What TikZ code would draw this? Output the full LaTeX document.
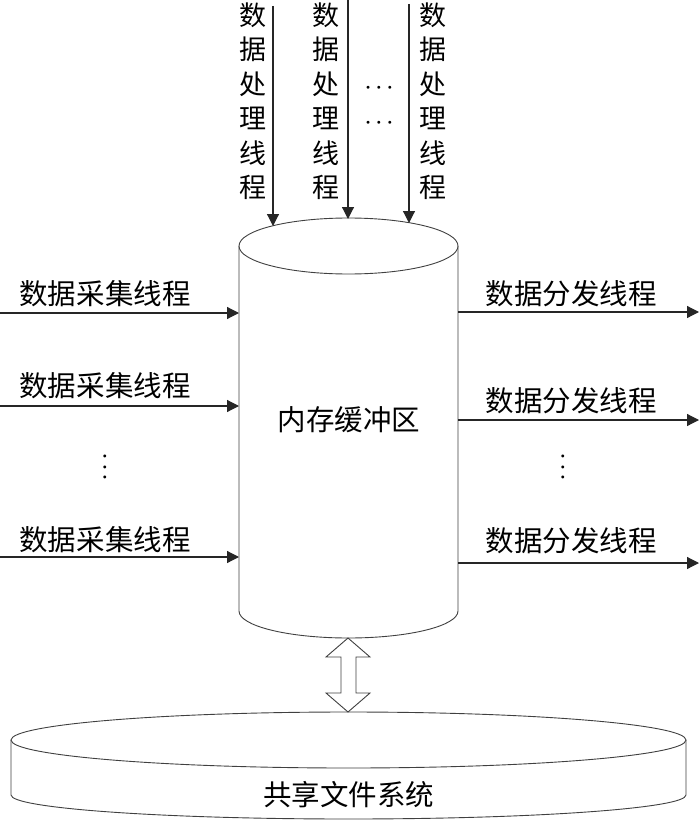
\documentclass[tikz,border=0pt]{standalone}
\usepackage{fontspec}
\newfontfamily\cjk{Noto Sans CJK SC}
\usetikzlibrary{arrows.meta}
\begin{document}
\begin{tikzpicture}[x=1pt,y=-1pt,
  arr/.style={line width=1.2pt,draw=black!85,-{Triangle[length=12pt,width=12pt]}},
  shp/.style={line width=0.9pt,draw=black!75,fill=white},
  lbl/.style={inner sep=0pt,font=\cjk\fontsize{28.5}{30}\selectfont},
  vcol/.style={inner sep=0pt,align=center,font=\cjk\fontsize{27}{34.5}\selectfont},
  dots/.style={inner sep=0pt,font=\fontsize{7.5}{9}\selectfont}]
\useasboundingbox (0,0) rectangle (700,821);

% memory buffer cylinder
\draw[shp] (239,246) -- (239,611) arc[start angle=180,end angle=0,x radius=109.5,y radius=27] -- (458,246);
\draw[shp] (348.5,246) ellipse [x radius=109.5,y radius=28];
\node[lbl] (buf) at (349,420) {内存缓冲区};
\coordinate (cylL) at (239,0);
\coordinate (cylR) at (458,0);

% shared file system disk
\draw[shp] (11,740) -- (11,795) arc[start angle=180,end angle=0,x radius=337.5,y radius=24] -- (686,740);
\draw[shp] (348.5,740) ellipse [x radius=337.5,y radius=28];
\node[lbl] (fs) at (348.5,795) {共享文件系统};

% double arrow between buffer and file system
\coordinate (dTop) at (348,638);
\coordinate (dBot) at (348,712);
\draw[shp] (dTop) -- (370,657) -- (356,657) -- (356,693) -- (370,693) -- (dBot)
  -- (326,693) -- (341,693) -- (341,657) -- (326,657) -- cycle;

% processing threads (top)
\node[vcol] (p1) at (253,101) {数\\据\\处\\理\\线\\程};
\node[vcol] (p2) at (326,101) {数\\据\\处\\理\\线\\程};
\node[vcol] (p3) at (433,101) {数\\据\\处\\理\\线\\程};
\node[dots] (pd1) at (379,88) {$\bullet\kern5pt\bullet\kern5pt\bullet$};
\node[dots] (pd2) at (379,123) {$\bullet\kern5pt\bullet\kern5pt\bullet$};
\coordinate (s1) at (273,6);   \coordinate (e1) at (273,226);
\coordinate (s2) at (348,0);   \coordinate (e2) at (348,219);
\coordinate (s3) at (409,4);   \coordinate (e3) at (409,223);
\draw[arr] (s1) -- (e1);
\draw[arr] (s2) -- (e2);
\draw[arr] (s3) -- (e3);

% collection threads (left)
\coordinate (a1) at (0,313);
\coordinate (a2) at (0,406);
\coordinate (a3) at (0,557);
\draw[arr] (a1) -- (a1 -| cylL);
\draw[arr] (a2) -- (a2 -| cylL);
\draw[arr] (a3) -- (a3 -| cylL);
\node[lbl] (c1) at (105,294) {数据采集线程};
\node[lbl] (c2) at (105,386) {数据采集线程};
\node[lbl] (c3) at (105,540) {数据采集线程};
\node[dots,rotate=90] (cd) at (105,467) {$\bullet\kern5pt\bullet\kern5pt\bullet$};

% distribution threads (right)
\coordinate (b1) at (699,312);
\coordinate (b2) at (699,420);
\coordinate (b3) at (699,563);
\draw[arr] (b1 -| cylR) -- (b1);
\draw[arr] (b2 -| cylR) -- (b2);
\draw[arr] (b3 -| cylR) -- (b3);
\node[lbl] (d1) at (571,294) {数据分发线程};
\node[lbl] (d2) at (571,401) {数据分发线程};
\node[lbl] (d3) at (571,541) {数据分发线程};
\node[dots,rotate=90] (dd) at (563,467) {$\bullet\kern5pt\bullet\kern5pt\bullet$};
\end{tikzpicture}
\end{document}
